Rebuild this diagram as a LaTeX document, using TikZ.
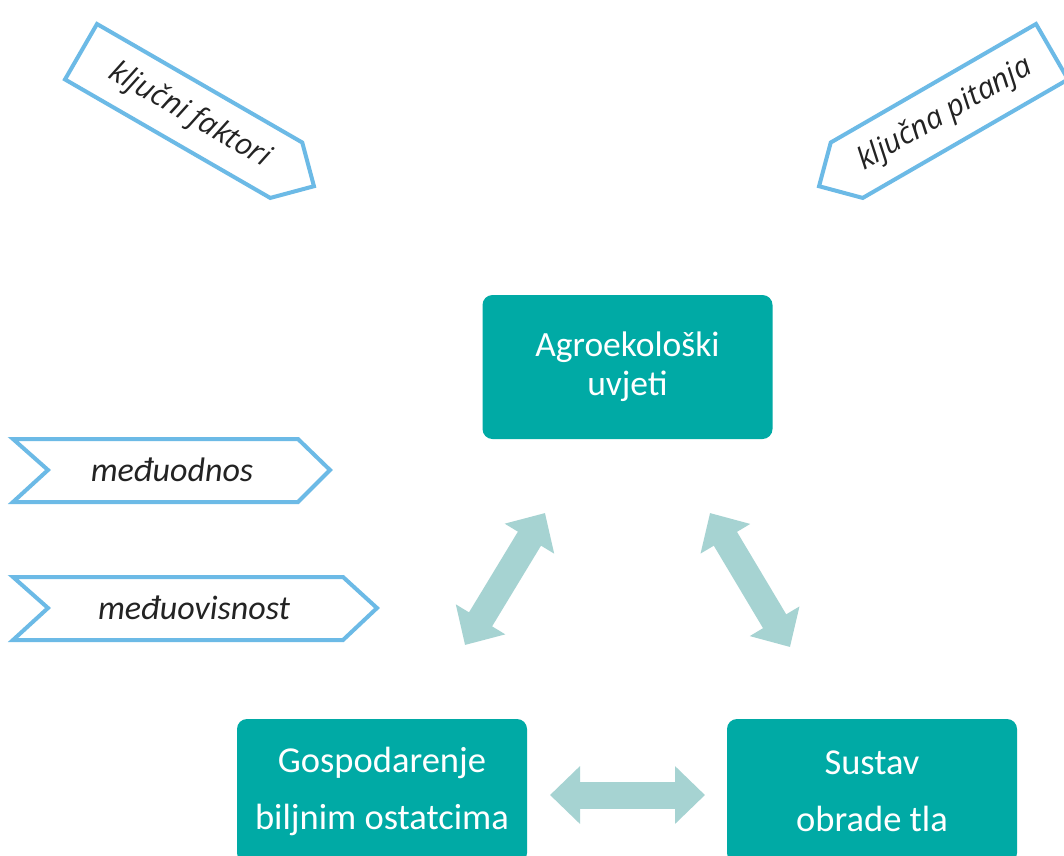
\documentclass[tikz,border=0pt]{standalone}
\usepackage{fontspec}
\setmainfont{Carlito}
\newfontfamily\osans{Open Sans}
\usetikzlibrary{arrows.meta}
\definecolor{tealbox}{RGB}{0,170,165}
\definecolor{arrowc}{RGB}{166,211,210}
\definecolor{chev}{RGB}{108,186,230}
\definecolor{txtc}{RGB}{35,35,35}
\begin{document}
\begin{tikzpicture}[x=1pt,y=-1pt,
  box/.style={fill=tealbox, rounded corners=10pt, text=white, minimum width=290pt, minimum height=144pt, align=center, inner sep=0pt},
  chevline/.style={draw=chev, line width=4pt, line join=miter, fill=white},
  chevtxt/.style={text=txtc, font=\fontsize{34}{38}\selectfont\itshape, inner sep=0pt},
  rottxt/.style={text=txtc, font=\osans\fontsize{30}{34}\selectfont\itshape, inner sep=0pt, transform shape},
  fat/.style={draw=arrowc, line width=27pt, {Triangle[length=30pt,width=56pt]}-{Triangle[length=30pt,width=56pt]}}
]
\useasboundingbox (0,0) rectangle (1064,855);
\clip (0,0) rectangle (1064,855);
\fill[white] (0,0) rectangle (1064,855);

% rotated labels
\begin{scope}[shift={(97,24)}, rotate=-30]
  \draw[chevline] (0,0) -- (237,0) -- (269,32) -- (237,64) -- (0,64) -- cycle;
  \node[rottxt] (kf) at (126,33) {ključni faktori};
\end{scope}
\begin{scope}[shift={(1036,24)}, rotate=30]
  \draw[chevline] (0,0) -- (-237,0) -- (-269,32) -- (-237,64) -- (0,64) -- cycle;
  \node[rottxt] (kp) at (-124,33) {ključna pitanja};
\end{scope}

% left chevrons
\draw[chevline] (13,439) -- (298,439) -- (330,470) -- (298,502) -- (13,502) -- (48,470) -- cycle;
\node[chevtxt] (mo) at (172,470) {međuodnos};
\draw[chevline] (13,577) -- (343,577) -- (377,608) -- (343,640) -- (13,640) -- (48,608) -- cycle;
\node[chevtxt] (mv) at (194,608) {međuovisnost};

% boxes
\node[box, font=\fontsize{35.5}{39}\selectfont] (ag) at (627.5,367) {Agroekološki\\uvjeti};
\node[box, font=\fontsize{36.5}{57}\selectfont] (gb) at (382,791) {Gospodarenje\\biljnim ostatcima};
\node[box, font=\fontsize{36.5}{57}\selectfont] (so) at (872,791) {Sustav\\obrade tla};

% arrows
\coordinate (a1) at (465,645);
\coordinate (a2) at (545,513);
\coordinate (b1) at (710,513);
\coordinate (b2) at (790,647);
\coordinate (c1) at (550,795);
\coordinate (c2) at (705,795);
\draw[fat] (a1) -- (a2);
\draw[fat] (b1) -- (b2);
\draw[fat] (c1) -- (c2);
\end{tikzpicture}
\end{document}
